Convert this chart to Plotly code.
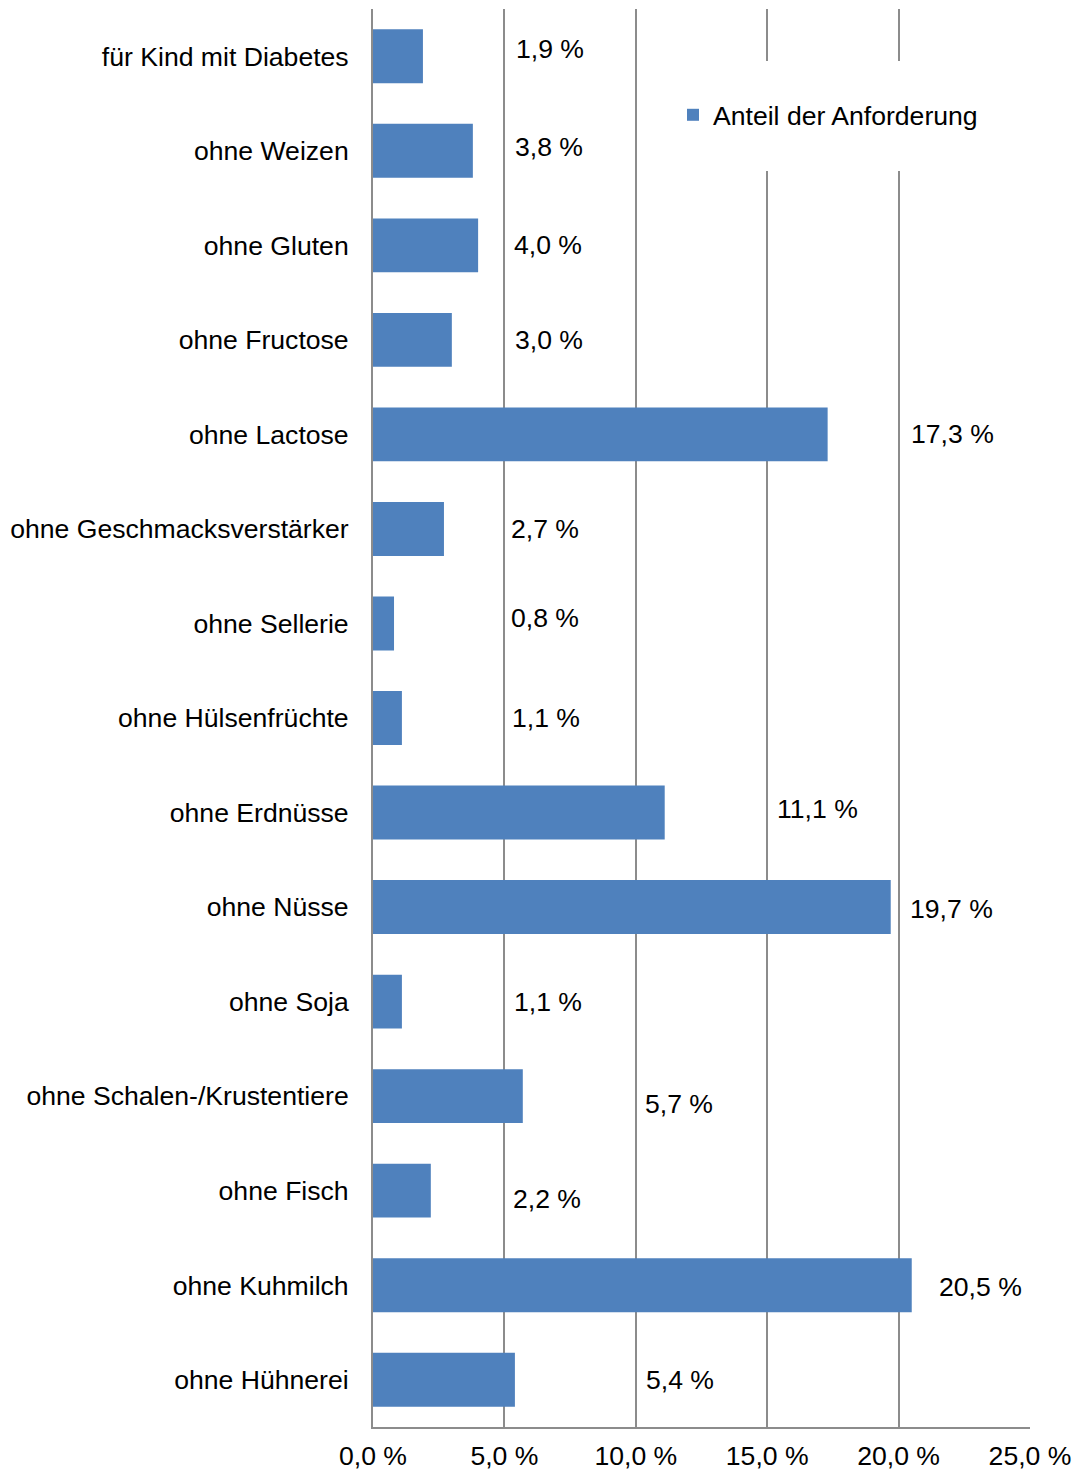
import plotly.graph_objects as go

categories = [
    "für Kind mit Diabetes", "ohne Weizen", "ohne Gluten", "ohne Fructose",
    "ohne Lactose", "ohne Geschmacksverstärker", "ohne Sellerie",
    "ohne Hülsenfrüchte", "ohne Erdnüsse", "ohne Nüsse", "ohne Soja",
    "ohne Schalen-/Krustentiere", "ohne Fisch", "ohne Kuhmilch", "ohne Hühnerei",
]
values = [1.9, 3.8, 4.0, 3.0, 17.3, 2.7, 0.8, 1.1, 11.1, 19.7, 1.1, 5.7, 2.2, 20.5, 5.4]
series_name = "Anteil der Anforderung"
x_ticks = [0, 5, 10, 15, 20, 25]

# label placement (style only)
label_x = [5.37, 5.33, 5.29, 5.33, 20.40, 5.18, 5.18, 5.21, 15.30, 20.36, 5.29, 10.27, 5.25, 21.46, 10.31]
label_dy = [-7, -4, 0, 0, 0, 0, -5, 0, -4, 2, 0, 8, 8, 2, 0]

FONT = "Liberation Sans, Arial, sans-serif"
FS = 26.6
BLUE = "#4F81BD"
GRID = "#8C8C8C"

# page body has an 8px default margin
PAGE_OFF = 8
W, H = 1086 - PAGE_OFF, 1473 - PAGE_OFF
PLOT_L, PLOT_R, PLOT_T, PLOT_B = 373, 1030, 9, 1427  # absolute page pixels
PH = PLOT_B - PLOT_T


def fmt(v):
    return f"{v:.1f}".replace(".", ",") + " %"


fig = go.Figure()
fig.add_trace(go.Bar(
    y=categories, x=values, orientation="h", name=series_name,
    marker=dict(color=BLUE, line=dict(width=0)), width=0.57,
    showlegend=True,
))

for c, v, lx, dy in zip(categories, values, label_x, label_dy):
    fig.add_annotation(x=lx, y=c, text=fmt(v), showarrow=False,
                       xanchor="left", yanchor="middle", yshift=-dy,
                       font=dict(family=FONT, size=FS, color="black"))

# white box behind the legend (covers gridlines)
fig.add_shape(type="rect", xref="x", yref="paper", x0=12.0, x1=23.5,
              y0=(PLOT_B - 171) / PH, y1=(PLOT_B - 61) / PH,
              fillcolor="white", line=dict(width=0), layer="above")

fig.update_layout(
    width=W, height=H,
    margin=dict(l=PLOT_L - PAGE_OFF, r=1086 - PLOT_R, t=PLOT_T - PAGE_OFF, b=1473 - PLOT_B, autoexpand=False),
    paper_bgcolor="white", plot_bgcolor="white",
    font=dict(family=FONT, size=FS, color="black"),
    showlegend=True,
    legend=dict(x=(673 - PLOT_L) / (PLOT_R - PLOT_L), y=(PLOT_B - 115) / PH,
                xanchor="left", yanchor="middle",
                bgcolor="rgba(0,0,0,0)", font=dict(family=FONT, size=FS, color="black")),
)
fig.update_xaxes(
    range=[0, 25], tickmode="array", tickvals=x_ticks, ticktext=[fmt(t) for t in x_ticks],
    showgrid=True, gridcolor=GRID, gridwidth=2,
    showline=True, linecolor=GRID, linewidth=2,
    zeroline=False, ticks="", ticklabelstandoff=4,
    tickfont=dict(family=FONT, size=FS, color="black"),
)
fig.update_yaxes(
    categoryorder="array", categoryarray=categories, autorange="reversed",
    showline=True, linecolor=GRID, linewidth=2, showgrid=False, zeroline=False,
    ticks="", ticklabelstandoff=17, tickfont=dict(family=FONT, size=FS, color="black"),
)

fig.write_html("out.html")
